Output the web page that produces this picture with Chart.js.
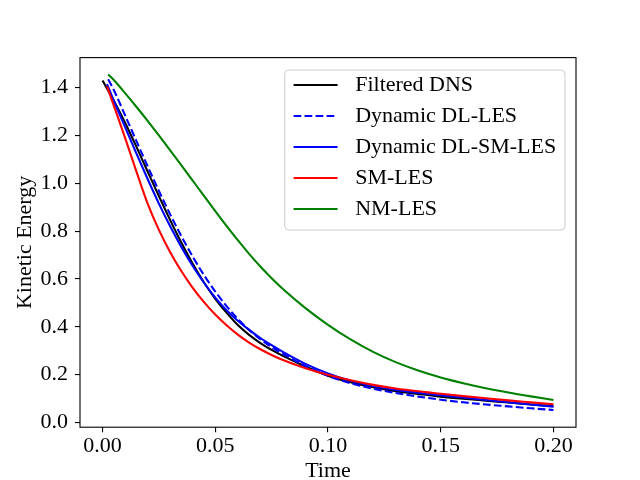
<!DOCTYPE html>
<html>
<head>
<meta charset="utf-8">
<script src="https://cdn.jsdelivr.net/npm/chart.js@4.4.1/dist/chart.umd.min.js"></script>
<style>
  html, body { margin: 0; padding: 0; background: #fff; }
  #wrap { width: 640px; height: 480px; }
</style>
</head>
<body>
<div id="wrap"><canvas id="chart" width="640" height="480"></canvas></div>
<script>
// time samples shared by all runs (after each run's own first point)
const times = [0.005, 0.01, 0.015, 0.02, 0.025, 0.03, 0.035, 0.04, 0.045, 0.05,
               0.055, 0.06, 0.065, 0.07, 0.075, 0.08, 0.09, 0.10, 0.11, 0.12,
               0.13, 0.14, 0.15, 0.16, 0.17, 0.18, 0.19, 0.20];

const labels = ['Filtered DNS', 'Dynamic DL-LES', 'Dynamic DL-SM-LES', 'SM-LES', 'NM-LES'];
const startTimes  = [0.0, 0.0025, 0.002, 0.002, 0.0025];
const startValues = [1.43, 1.435, 1.415, 1.405, 1.455];

const filteredDNS = [1.345, 1.253, 1.153, 1.049, 0.946, 0.846, 0.751, 0.663, 0.585, 0.517,
                     0.459, 0.407, 0.366, 0.332, 0.303, 0.278, 0.234, 0.195, 0.168, 0.147,
                     0.131, 0.119, 0.108, 0.099, 0.091, 0.083, 0.075, 0.068];
const dynDL = [1.39, 1.284, 1.177, 1.071, 0.968, 0.870, 0.778, 0.693, 0.616, 0.547,
               0.486, 0.433, 0.387, 0.348, 0.315, 0.287, 0.236, 0.195, 0.164, 0.141,
               0.123, 0.108, 0.095, 0.084, 0.075, 0.067, 0.059, 0.052];
const dynDLSM = [1.345, 1.235, 1.125, 1.018, 0.915, 0.82, 0.733, 0.654, 0.584, 0.522,
                 0.469, 0.425, 0.387, 0.353, 0.323, 0.295, 0.245, 0.205, 0.174, 0.152,
                 0.136, 0.124, 0.114, 0.104, 0.094, 0.084, 0.075, 0.066];
const smLES = [1.325, 1.19, 1.05, 0.915, 0.805, 0.712, 0.632, 0.563, 0.503, 0.451,
               0.406, 0.367, 0.334, 0.306, 0.282, 0.261, 0.227, 0.199, 0.176, 0.157,
               0.142, 0.130, 0.120, 0.110, 0.101, 0.092, 0.084, 0.076];
const nmLES = [1.432, 1.377, 1.320, 1.261, 1.200, 1.138, 1.075, 1.011, 0.947, 0.884,
               0.822, 0.762, 0.705, 0.652, 0.603, 0.558, 0.478, 0.408, 0.347, 0.295,
               0.252, 0.217, 0.188, 0.164, 0.143, 0.125, 0.109, 0.094];

const xTicks = [0.0, 0.05, 0.10, 0.15, 0.20];
const yTicks = [0.0, 0.2, 0.4, 0.6, 0.8, 1.0, 1.2, 1.4];

const series = [filteredDNS, dynDL, dynDLSM, smLES, nmLES];
const colors = ['#000000', '#0000ff', '#0000ff', '#ff0000', '#008000'];
const dashes = [[], [7.7, 3.3], [], [], []];

const FONT = 'Liberation Serif';

let toPoints = (i) => {
    let pts = [{x: startTimes[i], y: startValues[i]}];
    times.forEach((t, j) => pts.push({x: t, y: series[i][j]}));
    return pts;
};

// axes frame (all four spines)
const framePlugin = {
    id: 'frame',
    afterDatasetsDraw(chart) {
        const a = chart.chartArea, ctx = chart.ctx;
        ctx.save();
        ctx.strokeStyle = '#000';
        ctx.lineWidth = 1.1;
        ctx.strokeRect(a.left, a.top, a.right - a.left, a.bottom - a.top);
        ctx.restore();
    }
};

// matplotlib-like legend box in the upper right of the axes
const legendPlugin = {
    id: 'mplLegend',
    afterDraw(chart) {
        const a = chart.chartArea, ctx = chart.ctx;
        const fs = 22;
        ctx.save();
        ctx.font = fs + 'px "' + FONT + '"';
        let maxW = 0;
        chart.data.datasets.forEach(ds => { maxW = Math.max(maxW, ctx.measureText(ds.label).width); });
        const pad = 0.4 * fs, handle = 2 * fs, gap = 0.8 * fs;
        const w = pad + handle + gap + maxW + pad;
        const right = a.right - 11;
        const left = right - w;
        const top = a.top + 12.4;
        const rowH = 31;
        const h = 160;
        ctx.beginPath();
        ctx.roundRect(left, top, w, h, 4);
        ctx.fillStyle = 'rgba(255,255,255,0.8)';
        ctx.fill();
        ctx.strokeStyle = '#cccccc';
        ctx.lineWidth = 1;
        ctx.stroke();
        chart.data.datasets.forEach((ds, i) => {
            const y = top + 15 + i * rowH;
            ctx.beginPath();
            ctx.setLineDash(ds.borderDash || []);
            ctx.strokeStyle = ds.borderColor;
            ctx.lineWidth = ds.borderWidth;
            ctx.moveTo(left + pad, y);
            ctx.lineTo(left + pad + handle, y);
            ctx.stroke();
            ctx.setLineDash([]);
            ctx.fillStyle = '#000';
            ctx.textBaseline = 'middle';
            ctx.textAlign = 'left';
            ctx.fillText(ds.label, left + pad + handle + gap, y);
        });
        ctx.restore();
    }
};

new Chart(document.getElementById('chart'), {
    type: 'line',
    data: {
        datasets: labels.map((lab, i) => ({
            label: lab,
            data: toPoints(i),
            borderColor: colors[i],
            backgroundColor: colors[i],
            borderWidth: 2.1,
            borderDash: dashes[i],
            pointRadius: 0,
            fill: false,
            cubicInterpolationMode: 'monotone',
            order: labels.length - 1 - i
        }))
    },
    options: {
        responsive: false,
        devicePixelRatio: 1,
        animation: false,
        layout: { padding: { top: 57.6, right: 64, left: 0, bottom: 0 } },
        plugins: { legend: { display: false }, tooltip: { enabled: false } },
        scales: {
            x: {
                type: 'linear',
                min: -0.01,
                max: 0.21,
                afterBuildTicks: scale => { scale.ticks = xTicks.map(v => ({value: v})); },
                afterFit: scale => { scale.height = 52.8; },
                ticks: {
                    autoSkip: false,
                    maxRotation: 0,
                    padding: 1,
                    color: '#000',
                    font: { family: FONT, size: 22 },
                    callback: v => v.toFixed(2)
                },
                grid: { drawOnChartArea: false, drawTicks: true, tickLength: 5, color: '#000', lineWidth: 1.1 },
                border: { display: false },
                title: { display: true, text: 'Time', color: '#000', padding: { top: 0, bottom: -2 },
                         font: { family: FONT, size: 22, lineHeight: 1 } }
            },
            y: {
                type: 'linear',
                min: -0.02,
                max: 1.5255,
                afterBuildTicks: scale => { scale.ticks = yTicks.map(v => ({value: v})); },
                afterFit: scale => { scale.width = 80; },
                ticks: {
                    autoSkip: false,
                    padding: 7,
                    color: '#000',
                    font: { family: FONT, size: 22 },
                    callback: v => v.toFixed(1)
                },
                grid: { drawOnChartArea: false, drawTicks: true, tickLength: 5, color: '#000', lineWidth: 1.1 },
                border: { display: false },
                title: { display: true, text: 'Kinetic Energy', color: '#000', padding: { top: 14, bottom: 0 },
                         font: { family: FONT, size: 22, lineHeight: 1 } }
            }
        }
    },
    plugins: [framePlugin, legendPlugin]
});
</script>
</body>
</html>
